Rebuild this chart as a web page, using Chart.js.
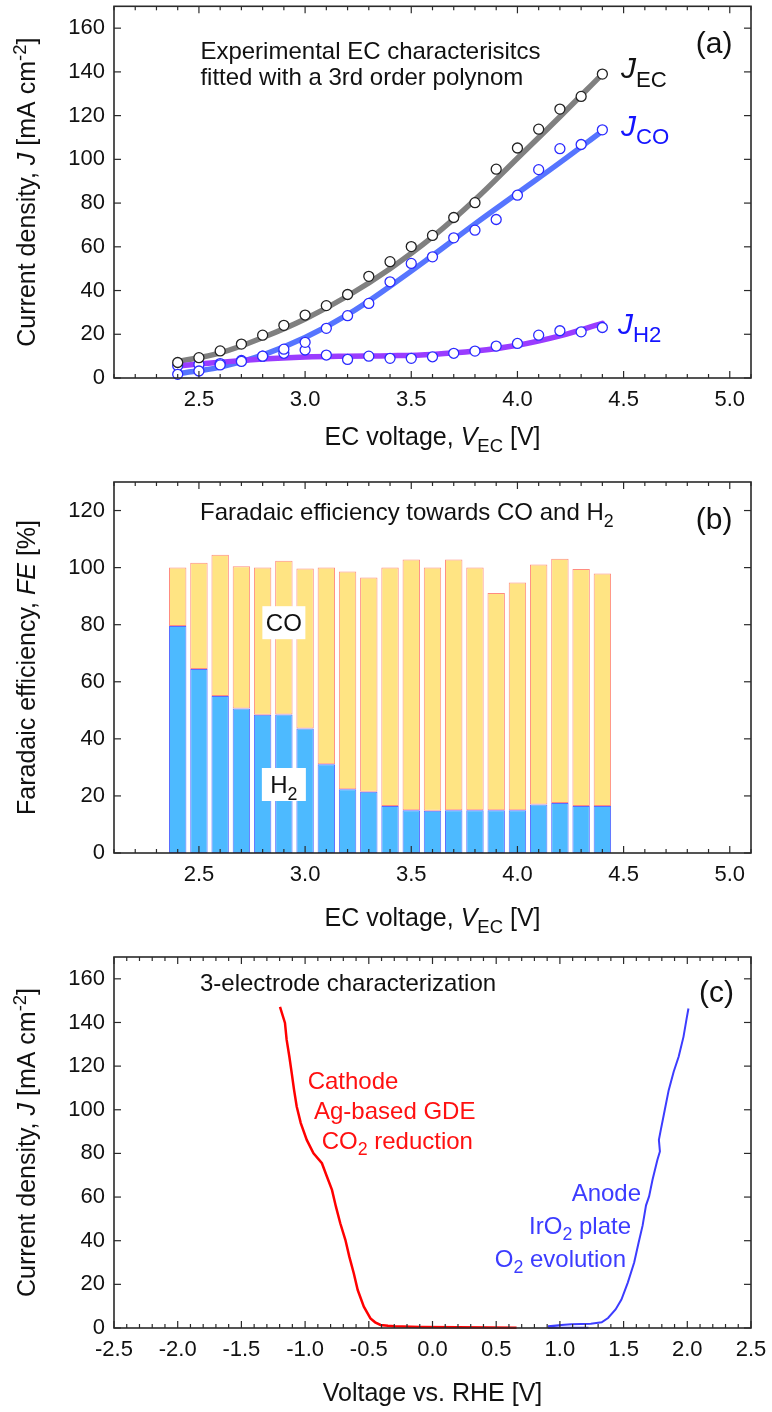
<!DOCTYPE html>
<html>
<head>
<meta charset="utf-8">
<script src="https://cdn.jsdelivr.net/npm/chart.js@4.4.1/dist/chart.umd.min.js"></script>
<style>
  body { margin: 0; background: #fff; }
  #wrap { position: relative; width: 772px; height: 1412px; }
  canvas { position: absolute; left: 0; }
</style>
</head>
<body>
<div id="wrap">
  <canvas id="ca" width="772" height="470" style="top:0"></canvas>
  <canvas id="cb" width="772" height="470" style="top:470px"></canvas>
  <canvas id="cc" width="772" height="472" style="top:940px"></canvas>
</div>
<script>
// (a) measured points, EC voltage [V] vs current density [mA cm-2]
const vEC = [2.4, 2.5, 2.6, 2.7, 2.8, 2.9, 3.0, 3.1, 3.2, 3.3, 3.4, 3.5, 3.6, 3.7, 3.8, 3.9, 4.0, 4.1, 4.2, 4.3, 4.4];
const jEC = [7.1, 9.3, 12.4, 15.5, 19.6, 24.1, 28.8, 33.1, 38.2, 46.5, 53.2, 60.1, 65.2, 73.4, 80.2, 95.5, 105.2, 113.8, 123, 128.8, 139];
const jCO = [1.7, 3.2, 6.0, 7.6, 10.0, 13.2, 16.3, 22.7, 28.5, 34.1, 44.0, 52.4, 55.4, 64.1, 67.6, 72.5, 83.6, 95.3, 104.9, 106.8, 113.5];
const jH2 = [5.6, 6.2, 6.6, 8.0, 10.0, 11.3, 12.8, 10.5, 8.5, 10.0, 9.0, 9.0, 9.7, 11.3, 12.3, 14.6, 15.8, 19.6, 21.6, 21.1, 23.1];

// (a) polynomial fit curves
const fitV = [2.4, 2.6, 2.8, 3.0, 3.2, 3.4, 3.6, 3.8, 4.0, 4.2, 4.4];
const fitEC = [7.5, 11.5, 18.5, 27, 37.5, 50, 64.5, 81.5, 100.5, 119.5, 139];
const fitCO = [2, 5, 10.5, 18.5, 29, 42, 56, 70.5, 84.5, 98.5, 113];
const fitH2 = [5.5, 7.2, 8.7, 9.6, 10, 10.2, 10.8, 12.3, 15, 19.3, 25];

// (b) faradaic efficiency [%]
const feH2 = [79.5, 64.5, 55, 50.6, 48.4, 48.5, 43.6, 31.1, 22.3, 21.5, 16.5, 15, 14.8, 15, 15, 15, 15, 17, 17.5, 16.5, 16.5];
const feCO = [20.5, 37.2, 49.5, 49.9, 51.6, 53.9, 56.1, 68.9, 76.3, 75, 83.5, 87.8, 85.2, 87.8, 85, 76.1, 79.8, 84.1, 85.6, 83, 81.4];

// (c) 3-electrode curves, voltage vs RHE [V] and current density
const cathV = [-1.197, -1.158, -1.145, -1.124, -1.105, -1.087, -1.066, -1.034, -0.987, -0.934, -0.868, -0.829, -0.789, -0.758, -0.724, -0.684, -0.653, -0.618, -0.587, -0.539, -0.487, -0.45, -0.408, -0.35, -0.3, -0.1, 0.2, 0.45, 0.66];
const cathJ = [147.1, 139.8, 132.1, 124.5, 116.8, 109.2, 101.5, 93.9, 86.2, 80.1, 75.5, 69.4, 63.3, 55.6, 48, 40.4, 32.7, 25.1, 17.4, 9.8, 4.4, 2.6, 1.4, 1.0, 0.8, 0.5, 0.3, 0.2, 0.1];
const anV = [1.224, 0.914, 0.914, 1.011, 1.089, 1.243, 1.328, 1.378, 1.437, 1.483, 1.533, 1.583, 1.618, 1.649, 1.676, 1.70, 1.727, 1.765, 1.785, 1.777, 1.792, 1.823, 1.854, 1.893, 1.932, 1.970, 1.997, 2.009];
const anJ = [0.15, 0.15, 0.8, 1.4, 1.7, 2.0, 2.6, 4.6, 8.5, 13, 20.8, 30, 39.2, 46.9, 56.2, 60.3, 67.9, 77, 80.9, 86.2, 90.8, 99.9, 109, 117.4, 124.3, 133.4, 142.6, 146.4];

// tick labels
const ticksEC = [2.5, 3.0, 3.5, 4.0, 4.5, 5.0];
const ticksJ = [0, 20, 40, 60, 80, 100, 120, 140, 160];
const ticksFE = [0, 20, 40, 60, 80, 100, 120];
const ticksRHE = [-2.5, -2.0, -1.5, -1.0, -0.5, 0.0, 0.5, 1.0, 1.5, 2.0, 2.5];

const FAM = '"Liberation Sans", Arial, Helvetica, sans-serif';
const xy = (xs, ys) => xs.map((v, i) => ({ x: v, y: ys[i] }));

function fontOf(style, size) {
  const small = style === 'sub' || style === 'sup';
  const s = small ? size * 0.74 : size;
  return (style === 'i' ? 'italic ' : '') + s.toFixed(1) + 'px ' + FAM;
}

// draws text made of parts [text, style]; y is the middle of the capitals
function drawRich(ctx, parts, x, y, size, color, align, rot) {
  ctx.save();
  ctx.translate(x, y);
  if (rot) ctx.rotate(rot);
  const ws = parts.map(([t, s]) => { ctx.font = fontOf(s, size); return ctx.measureText(t).width; });
  const total = ws.reduce((a, b) => a + b, 0);
  let cx = align === 'center' ? -total / 2 : align === 'right' ? -total : 0;
  ctx.fillStyle = color;
  ctx.textBaseline = 'alphabetic';
  ctx.textAlign = 'left';
  parts.forEach(([t, s], i) => {
    ctx.font = fontOf(s, size);
    let dy = size * 0.36;
    if (s === 'sub') dy += size * 0.28;
    if (s === 'sup') dy -= size * 0.38;
    ctx.fillText(t, cx, dy);
    cx += ws[i];
  });
  ctx.restore();
}

const decor = {
  id: 'decor',
  afterDatasetsDraw(chart, args, o) {
    const { ctx, chartArea: a, scales: { x, y } } = chart;
    ctx.save();
    ctx.strokeStyle = '#2a2a2a';
    ctx.lineWidth = 1.2;
    const seg = (x1, y1, x2, y2) => { ctx.beginPath(); ctx.moveTo(x1, y1); ctx.lineTo(x2, y2); ctx.stroke(); };
    const n0 = Math.ceil(x.min / 0.1 - 1e-6), n1 = Math.floor(x.max / 0.1 + 1e-6);
    for (let k = n0; k <= n1; k++) {
      const v = k * 0.1;
      const major = Math.abs(v * 2 - Math.round(v * 2)) < 1e-6;
      const px = x.getPixelForValue(v);
      const L = major ? 7 : 4;
      seg(px, a.bottom, px, a.bottom - L);
      seg(px, a.top, px, a.top + L);
    }
    y.ticks.forEach(t => {
      const py = y.getPixelForValue(t.value);
      seg(a.left, py, a.left + 7, py);
      seg(a.right, py, a.right - 7, py);
    });
    ctx.lineWidth = 1.6;
    ctx.strokeRect(a.left, a.top, a.right - a.left, a.bottom - a.top);

    (o.texts || []).forEach(t => {
      const px = x.getPixelForValue(t.x), py = y.getPixelForValue(t.y);
      if (t.box) {
        ctx.fillStyle = '#fff';
        ctx.fillRect(px - t.box[0] / 2, py - t.box[1] / 2, t.box[0], t.box[1]);
      }
      drawRich(ctx, t.parts, px, py, t.size || 24, t.color || '#111', t.align || 'left');
    });
    const cx = (a.left + a.right) / 2;
    drawRich(ctx, o.xTitle, cx, a.bottom + o.xTitleGap, 25, '#111', 'center');
    drawRich(ctx, o.yTitle, 26, (a.top + a.bottom) / 2, 25, '#111', 'center', -Math.PI / 2);
    ctx.restore();
  }
};

function scales(xMin, xMax, xTicks, yMax, yTicks, xHeight, stacked) {
  const tickFont = { size: 22, family: FAM };
  return {
    x: {
      type: 'linear', min: xMin, max: xMax, offset: false, stacked: stacked,
      grid: { display: false, drawTicks: false }, border: { display: false },
      ticks: { padding: 9, color: '#111', font: tickFont, maxRotation: 0, autoSkip: false,
               callback: v => Number(v).toFixed(1) },
      afterBuildTicks: s => { s.ticks = xTicks.map(v => ({ value: v })); },
      afterFit: s => { s.height = xHeight; s.paddingLeft = 0; s.paddingRight = 0; }
    },
    y: {
      type: 'linear', min: 0, max: yMax, stacked: stacked,
      grid: { display: false, drawTicks: false }, border: { display: false },
      ticks: { padding: 9, color: '#111', font: tickFont },
      afterBuildTicks: s => { s.ticks = yTicks.map(v => ({ value: v })); },
      afterFit: s => { s.width = 114; s.paddingTop = 0; s.paddingBottom = 0; }
    }
  };
}

function baseOptions(padTop, sc, decorOpts) {
  return {
    responsive: false, animation: false, devicePixelRatio: 1,
    layout: { padding: { top: padTop, right: 21, left: 0, bottom: 0 } },
    scales: sc,
    plugins: { legend: { display: false }, tooltip: { enabled: false }, decor: decorOpts }
  };
}

const fitLine = (ys, color, order) => ({
  data: xy(fitV, ys), showLine: true, borderColor: color, borderWidth: 5.5,
  pointRadius: 0, tension: 0.4, order: order, borderCapStyle: 'round'
});
const marks = (ys, color) => ({
  data: xy(vEC, ys), showLine: false, pointRadius: 5, pointBorderWidth: 1.3,
  pointBackgroundColor: '#fff', pointBorderColor: color, order: 0, clip: 6
});

const sub = (a, b) => [[a, 'n'], [b, 'sub']];

new Chart(document.getElementById('ca'), {
  type: 'scatter',
  data: {
    datasets: [
      fitLine(fitEC, '#808080', 3),
      fitLine(fitCO, '#5675ff', 2),
      fitLine(fitH2, '#9a3cff', 1),
      marks(jEC, '#222'),
      marks(jCO, '#2b2bff'),
      marks(jH2, '#2b2bff')
    ]
  },
  plugins: [decor],
  options: baseOptions(6, scales(2.1, 5.1, ticksEC, 170, ticksJ, 92, false), {
    xTitleGap: 58,
    xTitle: [['EC voltage, ', 'n'], ['V', 'i'], ['EC', 'sub'], [' [V]', 'n']],
    yTitle: [['Current density, ', 'n'], ['J', 'i'], [' [mA cm', 'n'], ['-2', 'sup'], [']', 'n']],
    texts: [
      { parts: [['Experimental EC characterisitcs', 'n']], x: 2.507, y: 149.9 },
      { parts: [['fitted with a 3rd order polynom', 'n']], x: 2.507, y: 137.8 },
      { parts: [['J', 'i'], ['EC', 'sub']], x: 4.488, y: 142.1, size: 30 },
      { parts: [['J', 'i'], ['CO', 'sub']], x: 4.488, y: 115.6, size: 30, color: '#1414ff' },
      { parts: [['J', 'i'], ['H2', 'sub']], x: 4.474, y: 25.1, size: 30, color: '#1414ff' },
      { parts: [['(a)', 'n']], x: 4.926, y: 153.6, size: 30, align: 'center' }
    ]
  })
});

new Chart(document.getElementById('cb'), {
  type: 'bar',
  data: {
    datasets: [
      { data: xy(vEC, feH2), backgroundColor: '#4dbaff', borderColor: '#5a6cff', borderWidth: 1,
        borderSkipped: false, barPercentage: 0.82, categoryPercentage: 1 },
      { data: xy(vEC, feCO), backgroundColor: '#ffe483', borderColor: '#ff8c80', borderWidth: 1,
        borderSkipped: false, barPercentage: 0.82, categoryPercentage: 1 }
    ]
  },
  plugins: [decor],
  options: baseOptions(12, scales(2.1, 5.1, ticksEC, 130, ticksFE, 87, true), {
    xTitleGap: 64,
    xTitle: [['EC voltage, ', 'n'], ['V', 'i'], ['EC', 'sub'], [' [V]', 'n']],
    yTitle: [['Faradaic efficiency, ', 'n'], ['FE', 'i'], [' [%]', 'n']],
    texts: [
      { parts: sub('Faradaic efficiency towards CO and H', '2'), x: 2.505, y: 119.6 },
      { parts: [['(b)', 'n']], x: 4.926, y: 117.4, size: 30, align: 'center' },
      { parts: [['CO', 'n']], x: 2.9, y: 80.7, align: 'center', box: [43, 33] },
      { parts: sub('H', '2'), x: 2.9, y: 24, align: 'center', box: [44, 33] }
    ]
  })
});

new Chart(document.getElementById('cc'), {
  type: 'scatter',
  data: {
    datasets: [
      { data: xy(cathV, cathJ), showLine: true, borderColor: '#ff0000', borderWidth: 2.5, pointRadius: 0, clip: 4 },
      { data: xy(anV, anJ), showLine: true, borderColor: '#3c3cff', borderWidth: 2, pointRadius: 0, clip: 4 }
    ]
  },
  plugins: [decor],
  options: baseOptions(17, scales(-2.5, 2.5, ticksRHE, 170, ticksJ, 84, false), {
    xTitleGap: 64,
    xTitle: [['Voltage vs. RHE [V]', 'n']],
    yTitle: [['Current density, ', 'n'], ['J', 'i'], [' [mA cm', 'n'], ['-2', 'sup'], [']', 'n']],
    texts: [
      { parts: [['3-electrode characterization', 'n']], x: -1.825, y: 158.4 },
      { parts: [['(c)', 'n']], x: 2.23, y: 154.4, size: 30, align: 'center' },
      { parts: [['Cathode', 'n']], x: -0.98, y: 113.7, color: '#ff1010' },
      { parts: [['Ag-based GDE', 'n']], x: -0.93, y: 99.9, color: '#ff1010' },
      { parts: [['CO', 'n'], ['2', 'sub'], [' reduction', 'n']], x: -0.87, y: 86.2, color: '#ff1010' },
      { parts: [['Anode', 'n']], x: 1.637, y: 62.3, color: '#3c3cff', align: 'right' },
      { parts: [['IrO', 'n'], ['2', 'sub'], [' plate', 'n']], x: 1.558, y: 47.2, color: '#3c3cff', align: 'right' },
      { parts: [['O', 'n'], ['2', 'sub'], [' evolution', 'n']], x: 1.519, y: 32.1, color: '#3c3cff', align: 'right' }
    ]
  })
});
</script>
</body>
</html>
